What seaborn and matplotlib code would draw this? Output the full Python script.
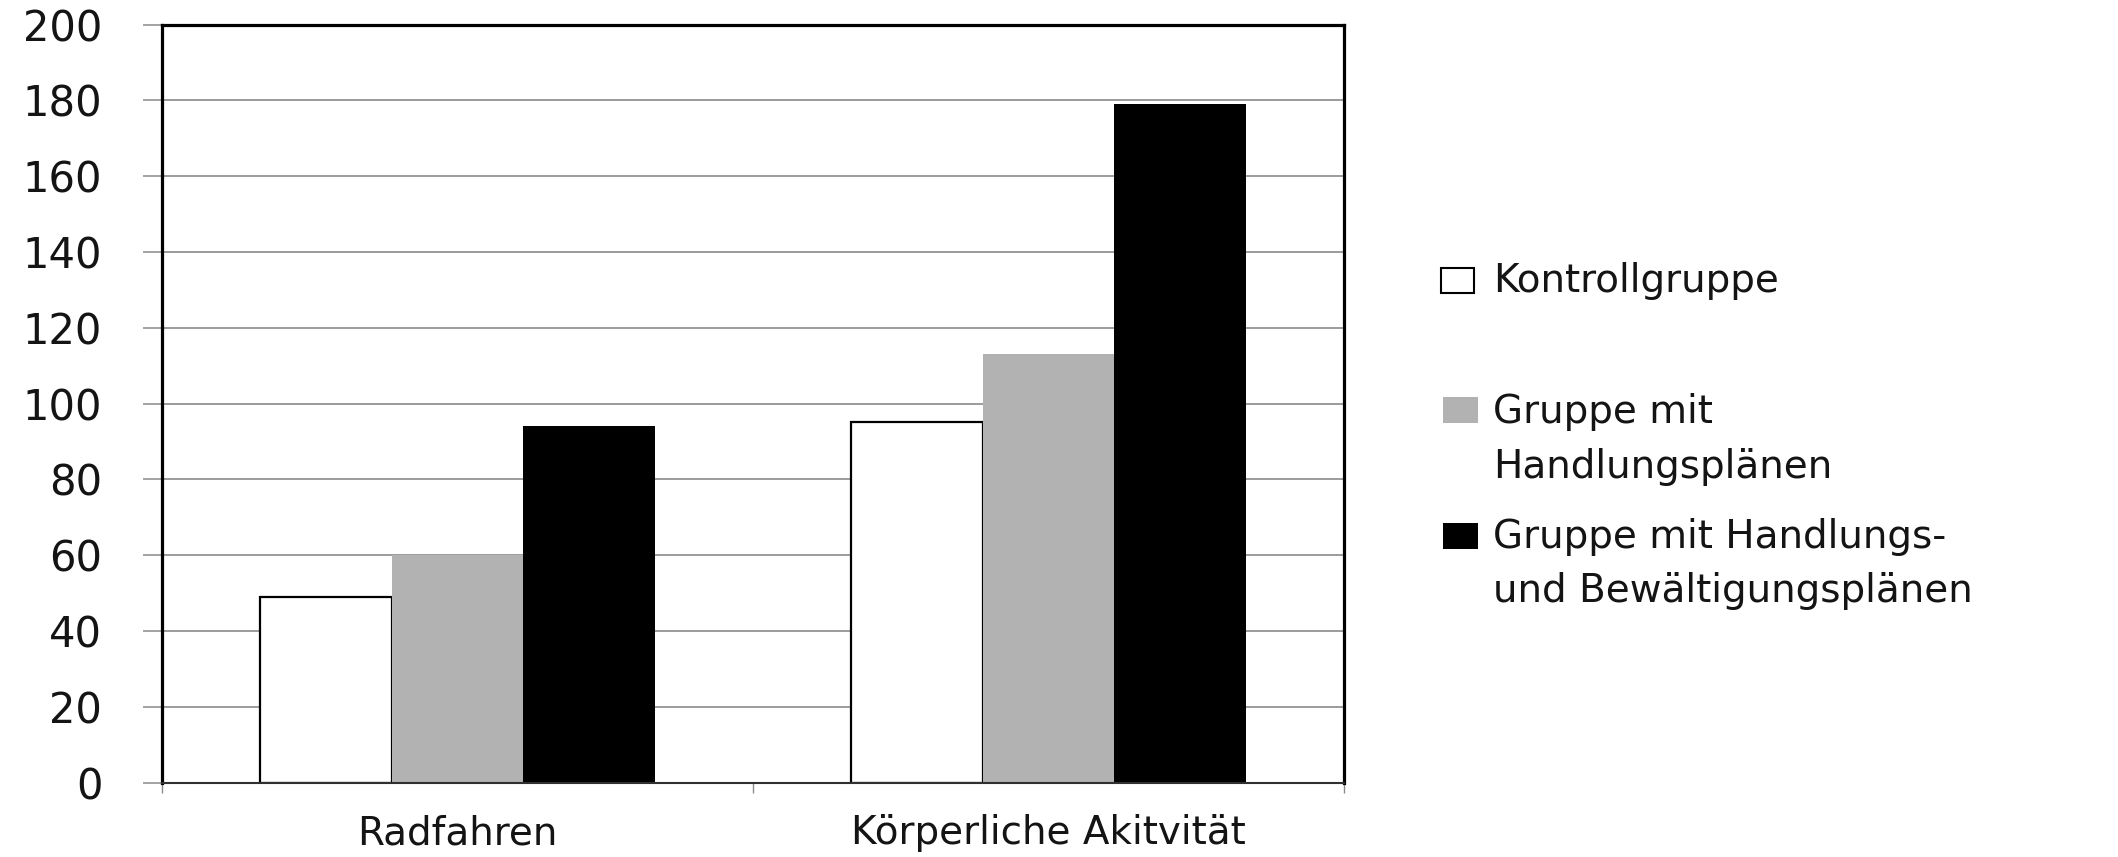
import matplotlib
matplotlib.use("Agg")
import matplotlib.pyplot as plt
from matplotlib.patches import Rectangle
from matplotlib.ticker import FixedLocator
import seaborn as sns
import pandas as pd

# ---- data ----
categories = ["Radfahren", "Körperliche Akitvität"]
groups = ["Kontrollgruppe", "Gruppe mit Handlungsplänen",
          "Gruppe mit Handlungs- und Bewältigungsplänen"]
kontroll = [49, 95]
handlung = [60, 113]
bewaelt = [94, 179]
yticks = list(range(0, 201, 20))
legend_lines = [["Kontrollgruppe"],
                ["Gruppe mit", "Handlungsplänen"],
                ["Gruppe mit Handlungs-", "und Bewältigungsplänen"]]

colors = ["#ffffff", "#b2b2b2", "#000000"]

df = pd.DataFrame({
    "Kategorie": categories * 3,
    "Gruppe": [groups[0]] * 2 + [groups[1]] * 2 + [groups[2]] * 2,
    "Wert": kontroll + handlung + bewaelt,
})

sns.set_style("white")
plt.rcParams["font.family"] = ["DejaVu Sans"]

W, H = 2118, 857
fig = plt.figure(figsize=(W / 100, H / 100), dpi=100)
ax = fig.add_axes([162 / W, 1 - 782.5 / H, (1344 - 162) / W, (782.5 - 24.6) / H])

sns.barplot(data=df, x="Kategorie", y="Wert", hue="Gruppe", order=categories,
            hue_order=groups, palette=colors, width=0.667, dodge=True,
            saturation=1, errorbar=None, legend=False, ax=ax)

for i, cont in enumerate(ax.containers):
    for bar in cont:
        if i == 0:
            bar.set_edgecolor("black")
            bar.set_linewidth(1.6)
        else:
            bar.set_edgecolor(colors[i])
            bar.set_linewidth(0)

ax.set_ylim(0, 200)
ax.set_xlim(-0.5, 1.5)
ax.set_yticks(yticks)
ax.set_yticklabels([str(v) for v in yticks])
ax.yaxis.grid(True, color="#8a8a8a", linewidth=1.2)
ax.xaxis.grid(False)
ax.set_axisbelow(True)
ax.set_xlabel("")
ax.set_ylabel("")

ax.tick_params(axis="y", which="major", left=True, length=14, width=1.1,
               color="#8a8a8a", pad=29, labelsize=30, labelcolor="#141414")
ax.tick_params(axis="x", which="major", bottom=True, length=0, pad=23,
               labelsize=28, labelcolor="#141414")
ax.xaxis.set_minor_locator(FixedLocator([-0.5, 0.5, 1.5]))
ax.tick_params(axis="x", which="minor", bottom=True, length=7, width=1.0,
               color="#8a8a8a")

for side in ["left", "top", "right"]:
    ax.spines[side].set_color("black")
    ax.spines[side].set_linewidth(2.3)
ax.spines["bottom"].set_color("#303030")
ax.spines["bottom"].set_linewidth(1.5)

# ---- legend (manual, to mimic the original layout) ----
sq = [(1441, 268, 33, 25), (1443, 397, 35, 26), (1443, 523, 35, 26)]
baselines = [[292], [423, 478], [548, 602]]
for i in range(3):
    x0, y0, w, h = sq[i]
    fig.add_artist(Rectangle((x0 / W, 1 - (y0 + h) / H), w / W, h / H,
                             transform=fig.transFigure,
                             facecolor=colors[i],
                             edgecolor="black" if i == 0 else colors[i],
                             linewidth=1.5 if i == 0 else 0))
    for line, b in zip(legend_lines[i], baselines[i]):
        fig.text(1493 / W, 1 - b / H, line, ha="left", va="baseline",
                 fontsize=28, color="#141414")

fig.savefig("out.png", dpi=100)
